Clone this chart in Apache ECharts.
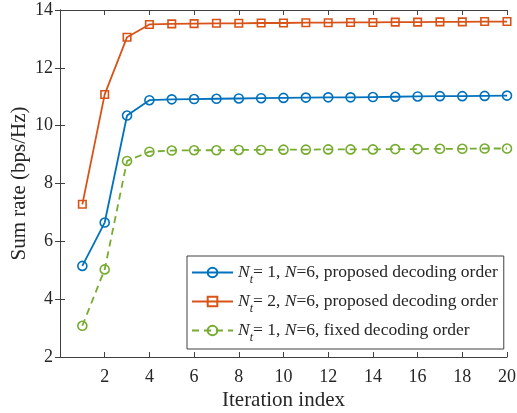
<!DOCTYPE html>
<html><head><meta charset="utf-8">
<script src="https://cdn.jsdelivr.net/npm/echarts@6/dist/echarts.min.js"></script>
<style>html,body{margin:0;padding:0;background:#fff}#c{width:517px;height:413px}</style>
</head><body><div id="c"></div>
<script>
const iterations = [1,2,3,4,5,6,7,8,9,10,11,12,13,14,15,16,17,18,19,20];
const nt1Proposed = [5.15,6.65,10.35,10.88,10.91,10.92,10.93,10.94,10.95,10.96,10.97,10.98,10.98,10.99,11.00,11.01,11.02,11.02,11.03,11.04];
const nt2Proposed = [7.28,11.08,13.06,13.50,13.52,13.53,13.54,13.54,13.55,13.55,13.56,13.56,13.57,13.57,13.58,13.58,13.59,13.59,13.60,13.60];
const nt1Fixed = [3.08,5.03,8.78,9.10,9.14,9.15,9.15,9.16,9.16,9.17,9.17,9.18,9.18,9.18,9.19,9.19,9.20,9.20,9.21,9.21];
const legendNames = ['Nt=1 proposed','Nt=2 proposed','Nt=1 fixed'];
const legendLabels = {
  'Nt=1 proposed': '{i|N}{s|t}{n|= 1, }{i|N}{n|=6, proposed decoding order}',
  'Nt=2 proposed': '{i|N}{s|t}{n|= 2, }{i|N}{n|=6, proposed decoding order}',
  'Nt=1 fixed': '{i|N}{s|t}{n|= 1, }{i|N}{n|=6, fixed decoding order}'
};

const FONT = 'Liberation Serif';
const AX = '#404040';
const TXT = '#262626';
const chart = echarts.init(document.getElementById('c'));
function pairs(ys){ return iterations.map((x,i)=>[x,ys[i]]); }
function mk(name, ys, color, symbol, size, dashed){
  return {
    name, type:'line', data: pairs(ys), symbol, symbolSize: size,
    lineStyle:{color, width:1.8, type: dashed ? [7,5] : 'solid'},
    itemStyle:{color:'rgba(255,255,255,0)', borderColor:color, borderWidth:1.6},
    emphasis:{disabled:true}, animation:false, z: 3
  };
}
const axisCommon = {
  axisLine:{show:true, lineStyle:{color:AX, width:1}},
  axisTick:{show:true, inside:true, length:5, lineStyle:{color:AX}},
  splitLine:{show:false}
};
chart.setOption({
  animation:false,
  grid:{left:60, right:10, top:10, bottom:56, containLabel:false, outerBoundsMode:'none'},
  xAxis:[
    Object.assign({type:'value', min:0, max:20, interval:2, position:'bottom',
      name:'Iteration index', nameLocation:'middle', nameGap:33, nameMoveOverlap:false,
      nameTextStyle:{fontFamily:FONT, fontSize:21, color:TXT},
      axisLabel:{fontFamily:FONT, fontSize:18, color:TXT, margin:11,
        formatter:v=> v===0 ? '' : String(v)}}, axisCommon),
    Object.assign({type:'value', min:0, max:20, interval:2, position:'top',
      axisLabel:{show:false}}, axisCommon)
  ],
  yAxis:[
    Object.assign({type:'value', min:2, max:14, interval:2, position:'left',
      name:'Sum rate (bps/Hz)', nameLocation:'middle', nameGap:30, nameMoveOverlap:false,
      nameTextStyle:{fontFamily:FONT, fontSize:21, color:TXT},
      axisLabel:{fontFamily:FONT, fontSize:18, color:TXT, margin:7}}, axisCommon),
    Object.assign({type:'value', min:2, max:14, interval:2, position:'right',
      axisLabel:{show:false}}, axisCommon)
  ],
  legend:{
    data: legendNames, orient:'vertical', left:187, top:256,
    itemWidth:41, itemHeight:12, itemGap:3,
    padding:[4,6,5,4],
    backgroundColor:'#fff', borderColor:AX, borderWidth:1, borderRadius:0,
    formatter: n => legendLabels[n],
    textStyle:{
      fontFamily:FONT, fontSize:17.5, color:TXT, lineHeight:25,
      rich:{
        n:{fontFamily:FONT, fontSize:17.5, color:TXT, lineHeight:25},
        i:{fontFamily:FONT, fontSize:17.5, fontStyle:'italic', color:TXT, lineHeight:25},
        s:{fontFamily:FONT, fontSize:12, fontStyle:'italic', color:TXT, lineHeight:25, height:10, verticalAlign:'bottom'}
      }
    },
    selectedMode:false
  },
  series:[
    mk(legendNames[0], nt1Proposed, '#0072BD', 'circle', 9, false),
    mk(legendNames[1], nt2Proposed, '#D95319', 'rect', 7.5, false),
    mk(legendNames[2], nt1Fixed, '#77AC30', 'circle', 9, true)
  ]
});
</script></body></html>
